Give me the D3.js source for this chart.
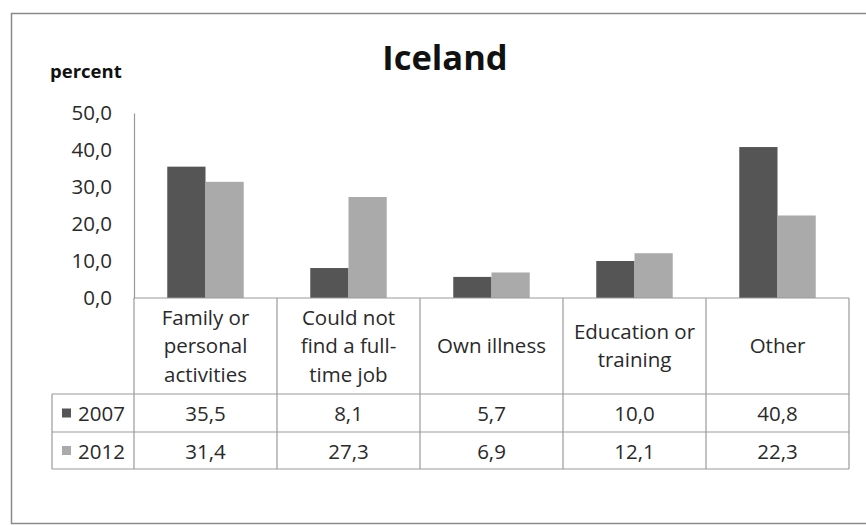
<!DOCTYPE html>
<html>
<head>
<meta charset="utf-8">
<script src="https://cdn.jsdelivr.net/npm/d3@7"></script>
<style>
  html, body { margin: 0; padding: 0; background: #fff; }
  svg { display: block; }
  text { font-family: "Open Sans", "Liberation Sans", sans-serif; fill: #2a2a2a; }
</style>
</head>
<body>
<svg id="chart" width="866" height="525"></svg>
<script>
// Reasons for part-time work, Iceland
const categories = [
  ["Family or", "personal", "activities"],
  ["Could not", "find a full-", "time job"],
  ["Own illness"],
  ["Education or", "training"],
  ["Other"]
];
const seriesNames = ["2007", "2012"];
const values2007 = [35.5, 8.1, 5.7, 10.0, 40.8];
const values2012 = [31.4, 27.3, 6.9, 12.1, 22.3];
const yTicks = [0, 10, 20, 30, 40, 50];
const colors = ["#555555", "#aaaaaa"];

const svg = d3.select("#chart");
const fmt = v => d3.format(".1f")(v).replace(".", ",");
const fs = 20.5;

// Frame
svg.append("rect")
  .attr("x", 11.5).attr("y", 13.5)
  .attr("width", 870).attr("height", 510)
  .attr("fill", "#fff").attr("stroke", "#8a8a8a").attr("stroke-width", 1.5);

const plot = { left: 134, right: 849, top: 113, bottom: 298 };
const tableLeft = 52;
const rowBottoms = [394, 432, 469];

const x = d3.scaleBand()
  .domain(d3.range(categories.length))
  .range([plot.left, plot.right]);
const xInner = d3.scaleBand()
  .domain(seriesNames)
  .range([0, x.bandwidth()])
  .paddingOuter(0.87).paddingInner(0);
const y = d3.scaleLinear().domain([0, 50]).range([plot.bottom, plot.top]);

// Title and axis unit
svg.append("text").attr("x", 445).attr("y", 70)
  .attr("text-anchor", "middle").attr("font-size", 34.5).attr("font-weight", "bold")
  .style("fill", "#111").text("Iceland");
svg.append("text").attr("x", 50).attr("y", 78)
  .attr("font-size", 18.5).attr("font-weight", "bold")
  .style("fill", "#111").text("percent");

// Y axis
const yAxis = d3.axisLeft(y).tickValues(yTicks).tickFormat(fmt).tickSize(0).tickPadding(22);
const gy = svg.append("g").attr("transform", `translate(${plot.left},0)`).call(yAxis);
gy.select(".domain").attr("stroke", "#999").attr("stroke-width", 1.2);
gy.selectAll("text").attr("font-size", fs).attr("font-family", "Open Sans").style("fill", "#2a2a2a");

// Bars
const data = seriesNames.map((s, i) => ({ s, vals: i === 0 ? values2007 : values2012 }));
data.forEach((d, si) => {
  svg.append("g").selectAll("rect")
    .data(d.vals)
    .join("rect")
    .attr("x", (v, i) => x(i) + xInner(d.s))
    .attr("y", v => y(v))
    .attr("width", xInner.bandwidth())
    .attr("height", v => y(0) - y(v))
    .attr("fill", colors[si]);
});

// Data table grid
const grid = svg.append("g").attr("stroke", "#9a9a9a").attr("stroke-width", 1.2);
grid.append("line").attr("x1", plot.left).attr("x2", plot.right)
  .attr("y1", plot.bottom).attr("y2", plot.bottom);
rowBottoms.forEach(yy => {
  grid.append("line").attr("x1", tableLeft).attr("x2", plot.right)
    .attr("y1", yy).attr("y2", yy);
});
const vx = d3.range(categories.length + 1).map(i => i < categories.length ? x(i) : plot.right);
vx.forEach(xx => {
  grid.append("line").attr("x1", xx).attr("x2", xx)
    .attr("y1", plot.bottom).attr("y2", rowBottoms[2]);
});
grid.append("line").attr("x1", tableLeft).attr("x2", tableLeft)
  .attr("y1", rowBottoms[0]).attr("y2", rowBottoms[2]);

// Category headers
categories.forEach((lines, i) => {
  const cx = x(i) + x.bandwidth() / 2;
  const mid = (plot.bottom + rowBottoms[0]) / 2;
  const lh = 28.5;
  const t = svg.append("text").attr("text-anchor", "middle").attr("font-size", fs);
  lines.forEach((ln, k) => {
    t.append("tspan").attr("x", cx)
      .attr("y", mid + (k - (lines.length - 1) / 2) * lh + 7)
      .text(ln);
  });
});

// Value rows with legend keys
data.forEach((d, si) => {
  const top = rowBottoms[si], bot = rowBottoms[si + 1];
  const cy = (top + bot) / 2;
  svg.append("rect").attr("x", 62).attr("y", cy - 4.5)
    .attr("width", 9).attr("height", 9).attr("fill", colors[si]);
  svg.append("text").attr("x", 78).attr("y", cy + 8)
    .attr("font-size", fs).text(d.s);
  d.vals.forEach((v, i) => {
    svg.append("text").attr("x", x(i) + x.bandwidth() / 2).attr("y", cy + 8)
      .attr("text-anchor", "middle").attr("font-size", fs).text(fmt(v));
  });
});
</script>
</body>
</html>
